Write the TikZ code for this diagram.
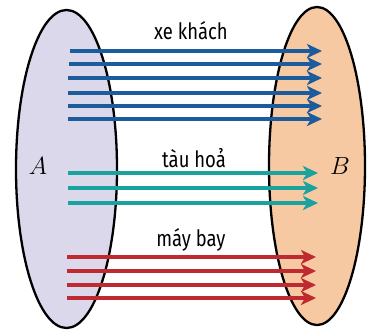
\documentclass[tikz,border=0pt]{standalone}
\usepackage{fontspec}
\newfontfamily\labfont[FakeStretch=0.82]{Fira Sans}
\usetikzlibrary{arrows.meta,shapes.geometric}
\definecolor{setA}{HTML}{DCD8EC}
\definecolor{setB}{HTML}{F7C9A2}
\definecolor{busc}{HTML}{1C5C9C}
\definecolor{trainc}{HTML}{1AA39E}
\definecolor{planec}{HTML}{BE2A30}
\tikzset{
  setshape/.style={ellipse, draw=black, line width=2.3pt, inner sep=0pt},
  maparrow/.style={line width=3.3pt, -{Stealth[length=15pt,width=14pt,inset=4pt]}},
  modelab/.style={font=\labfont\fontsize{22.5}{24}\selectfont, inner sep=0pt},
  setlab/.style={font=\fontsize{24}{26}\selectfont, inner sep=0pt}
}
\begin{document}
\begin{tikzpicture}[x=1pt,y=-1pt]
\useasboundingbox (0,0) rectangle (370,330);
\node[setshape, fill=setA, minimum width=101pt, minimum height=318pt] (A) at (66.5,169) {};
\node[setshape, fill=setB, minimum width=96pt, minimum height=318pt] (B) at (317,166) {};
\node[setlab] (la) at (38,166) {$A$};
\node[setlab] (lb) at (340,166) {$B$};
\node[modelab] (t1) at (191,31) {xe khách};
\node[modelab] (t2) at (194,158) {tàu hoả};
\node[modelab] (t3) at (191,240) {máy bay};
\foreach \y/\xs in {51/70,64/69,78/68,93/68,106/68,119/68} {
  \coordinate (bs\y) at (\xs,\y);
  \coordinate (be\y) at (322,\y);
  \draw[maparrow, busc] (bs\y) -- (be\y);
}
\foreach \y in {173,188,203} {
  \coordinate (ts\y) at (68,\y);
  \coordinate (te\y) at (318,\y);
  \draw[maparrow, trainc] (ts\y) -- (te\y);
}
\foreach \y in {257,271,285,298} {
  \coordinate (ps\y) at (67,\y);
  \coordinate (pe\y) at (316,\y);
  \draw[maparrow, planec] (ps\y) -- (pe\y);
}
\end{tikzpicture}
\end{document}
